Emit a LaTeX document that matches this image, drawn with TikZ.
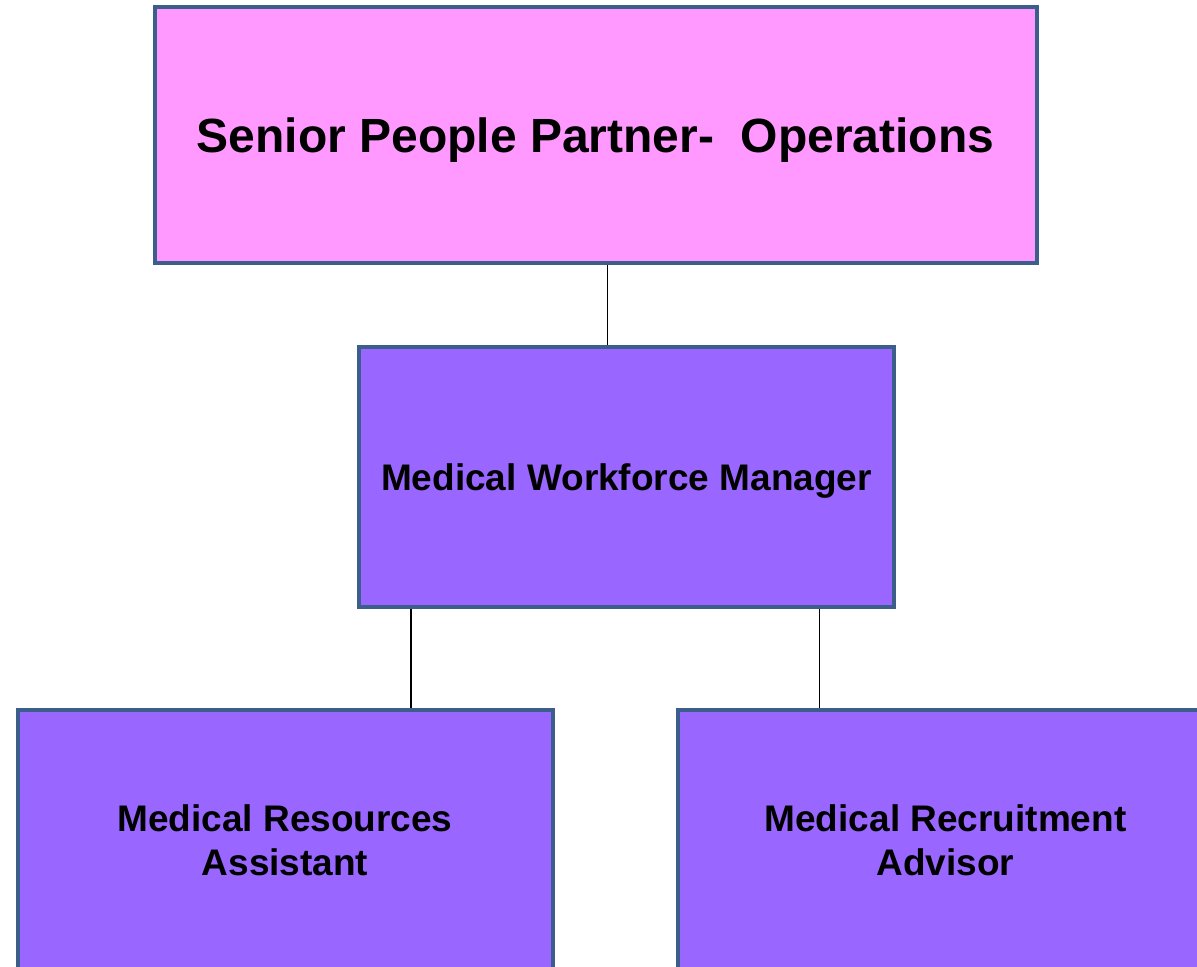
\documentclass[tikz,border=0pt]{standalone}
\usepackage{fontspec}
\setmainfont{Liberation Sans}
\usetikzlibrary{positioning}
\definecolor{toppink}{HTML}{FF99FF}
\definecolor{boxpurple}{HTML}{9966FF}
\definecolor{boxedge}{HTML}{3B5E8A}
\tikzset{role node/.style={rectangle,draw=boxedge,line width=2pt,fill=boxpurple,minimum width=267.5pt,minimum height=130pt,inner sep=0pt,align=center,font=\bfseries\fontsize{18.5}{22}\selectfont} }

\begin{document}
\begin{tikzpicture}
\useasboundingbox (0,0) rectangle (598.5pt,483.5pt);
\clip (0,0) rectangle (598.5pt,483.5pt);
\begin{scope}[on grid]

  \node[role node,fill=toppink,minimum width=441pt,minimum height=128pt,text depth=0pt,font=\bfseries\fontsize{24}{28}\selectfont] (spp) at (297.75pt,416pt) {Senior People Partner-\ \ Operations};
  \node[role node,text depth=0pt] (mwm) [below right=171pt and 15.5pt of spp] {Medical Workforce Manager};
  \node[role node] (mra) [below left=181.5pt and 170.75pt of mwm] {Medical Resources\\Assistant};
  \node[role node] (mrca) [below right=181.5pt and 159.5pt of mwm] {Medical Recruitment\\Advisor};

    \path[draw,line width=0.75pt]
    ([xshift=-9.5pt]mwm.north) -- ([xshift=-9.5pt]mwm.north |- spp.south)
    ([xshift=63pt]mra.north) -- ([xshift=63pt]mra.north |- mwm.south)
    ([xshift=-63pt]mrca.north) -- ([xshift=-63pt]mrca.north |- mwm.south)
    ;
    \end{scope}
\end{tikzpicture}
\end{document}
